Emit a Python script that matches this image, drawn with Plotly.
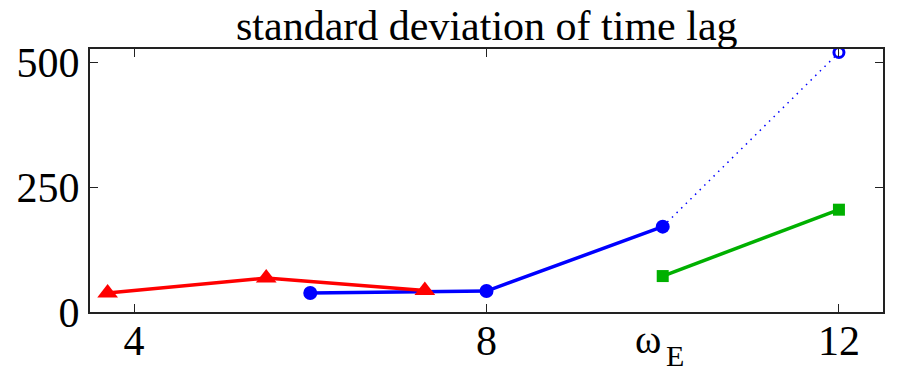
import plotly.graph_objects as go

# data
red_x = [3.7, 5.5, 7.3]
red_y = [38, 68, 43]
blue_x = [6.0, 8.0, 10.0]
blue_y = [38, 42, 171]
blue_ext_x = [10.0, 12.0]
blue_ext_y = [171, 520]
green_x = [10.0, 12.0]
green_y = [72, 205]
x_ticks = [4, 8, 12]
x_ticklabels = ["4", "8", "12"]
omega_e = 10.0
omega_symbol = "ω"
omega_sub = "E"
y_ticks = [0, 250, 500]
title_text = "standard deviation of time lag"

FONT = "Liberation Serif"

fig = go.Figure()
fig.add_trace(go.Scatter(x=blue_ext_x, y=blue_ext_y, mode="lines",
                         line=dict(color="#0000ff", width=1.5, dash="1.5px,5px"),
                         showlegend=False, hoverinfo="skip"))
fig.add_trace(go.Scatter(x=blue_ext_x[-1:], y=blue_ext_y[-1:], mode="markers",
                         marker=dict(symbol="circle-open", size=10, color="#0000ff",
                                     line=dict(width=3, color="#0000ff")),
                         showlegend=False))
fig.add_trace(go.Scatter(x=blue_x, y=blue_y, mode="lines+markers",
                         line=dict(color="#0000ff", width=3.5),
                         marker=dict(symbol="circle", size=14, color="#0000ff"),
                         showlegend=False))
fig.add_trace(go.Scatter(x=red_x, y=red_y, mode="lines+markers",
                         line=dict(color="#ff0000", width=3.5),
                         marker=dict(symbol="triangle-up", size=18, color="#ff0000"),
                         showlegend=False))
fig.add_trace(go.Scatter(x=green_x, y=green_y, mode="lines+markers",
                         line=dict(color="#00b000", width=3.5),
                         marker=dict(symbol="square", size=12, color="#00b000"),
                         showlegend=False))

axis_common = dict(showline=True, linecolor="#222222", linewidth=2, mirror="ticks",
                   ticks="inside", ticklen=8, tickwidth=1, tickcolor="#222222",
                   showgrid=False, zeroline=False, automargin=False,
                   tickfont=dict(family=FONT, size=42, color="#000000"))

fig.update_xaxes(range=[3.5, 12.5], tickvals=x_ticks, ticktext=x_ticklabels,
                 ticklabelstandoff=-9, **axis_common)
fig.update_yaxes(range=[0, 527], tickvals=y_ticks, ticktext=[str(v) for v in y_ticks], **axis_common)

fig.add_annotation(x=omega_e, y=0, xref="x", yref="paper", yanchor="top", xanchor="center",
                   text=omega_symbol, showarrow=False, xshift=-15, yshift=-3,
                   font=dict(family=FONT, size=40, color="#000000"))
fig.add_annotation(x=omega_e, y=0, xref="x", yref="paper", yanchor="top", xanchor="center",
                   text=omega_sub, showarrow=False, xshift=12, yshift=-25,
                   font=dict(family=FONT, size=30, color="#000000"))
fig.add_annotation(x=0.5, y=1, xref="paper", yref="paper", yanchor="bottom", xanchor="center",
                   text=title_text, showarrow=False, yshift=-2,
                   font=dict(family=FONT, size=42, color="#000000"))

fig.update_layout(width=897, height=370, margin=dict(l=90, r=14, t=49, b=58),
                  paper_bgcolor="white", plot_bgcolor="white")

fig.write_html("out.html")
